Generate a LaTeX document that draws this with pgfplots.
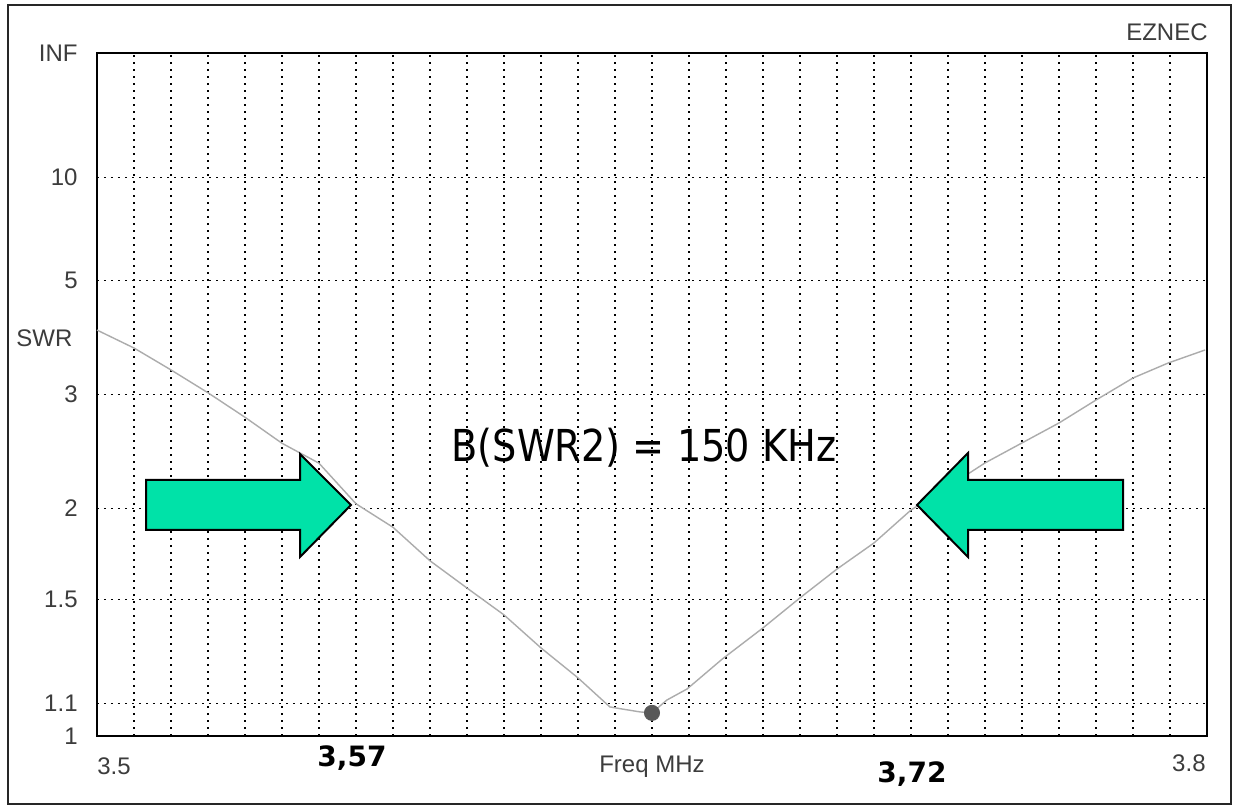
\documentclass[border=0pt]{standalone}
\usepackage{pgfplots}
\pgfplotsset{compat=1.18}
\usepackage{fontspec}
\setmainfont{Liberation Sans}
\newfontfamily\dv{DejaVu Sans}
\definecolor{arrowgreen}{RGB}{0,226,168}
\definecolor{txtgray}{RGB}{60,60,60}
\begin{document}
\begin{tikzpicture}[x=0.5pt,y=0.5pt]
\path[use as bounding box] (0,0) rectangle (1233,806);
\fill[white] (0,0) rectangle (1233,806);
\draw[line width=1pt, black!85] (8,2) rectangle (1231,801);
\begin{axis}[
  at={(48.5pt,35pt)}, anchor=south west,
  scale only axis, width=555pt, height=341.5pt,
  xmin=3.5, xmax=3.8, ymin=0, ymax=1,
  y filter/.expression={(y-1)/(y+1)},
  xtick={3.5,3.8}, xticklabels={},
  minor x tick num=29,
  ytick={0,0.047619,0.2,0.333333,0.5,0.666667,0.818182,1},
  yticklabels={1,1.1,1.5,2,3,5,10,INF},
  /pgf/number format/assume math mode=true,
  yticklabel style={font=\fontsize{12pt}{14pt}\selectfont, text=txtgray, inner sep=0pt, xshift=-9.5pt},
  major tick length=0pt, minor tick length=0pt,
  ymajorgrids, xminorgrids,
  major grid style={black, line width=0.65pt, dash pattern=on 1.2pt off 2.3pt},
  minor grid style={black, line width=0.65pt, dash pattern=on 1.2pt off 2.3pt},
  axis line style={black, line width=0.8pt},
  clip=false,
]
\addplot[gray!65, line width=0.7pt] coordinates {
(3.500,3.93) (3.510,3.63) (3.520,3.31) (3.530,3.02) (3.540,2.75)
(3.550,2.50) (3.560,2.33) (3.570,2.03) (3.580,1.88) (3.590,1.69)
(3.600,1.553) (3.610,1.431) (3.620,1.296) (3.630,1.186) (3.6386,1.089)
(3.6405,1.085) (3.6468,1.073) (3.650,1.070) (3.654,1.111) (3.6595,1.148)
(3.669,1.254) (3.680,1.376) (3.690,1.507) (3.700,1.647) (3.710,1.788)
(3.720,1.989) (3.730,2.148) (3.740,2.332) (3.750,2.503) (3.760,2.692)
(3.770,2.936) (3.780,3.203) (3.7895,3.406) (3.7995,3.60)
};
\addplot[only marks, mark=*, mark size=3.8pt, color=black!65] coordinates {(3.650,1.070)};
\end{axis}
% axis texts
\node[anchor=base west, inner sep=0pt, text=txtgray, font=\fontsize{12pt}{14pt}\selectfont] at (97,31) {3.5};
\node[anchor=base east, inner sep=0pt, text=txtgray, font=\fontsize{12pt}{14pt}\selectfont] at (1206,34) {3.8};
\node[anchor=base, inner sep=0pt, text=txtgray, font=\fontsize{12pt}{14pt}\selectfont] at (652,33) {Freq MHz};
\node[anchor=west, inner sep=0pt, text=txtgray, font=\fontsize{12pt}{14pt}\selectfont] at (16,468) {SWR};
\node[anchor=east, inner sep=0pt, text=txtgray, font=\fontsize{12pt}{14pt}\selectfont] at (1208,774) {EZNEC};
% arrows
\draw[line width=1pt, fill=arrowgreen, line join=miter]
  (146,326) -- (300,326) -- (300,352) -- (351,301) -- (300,249) -- (300,276) -- (146,276) -- cycle;
\draw[line width=1pt, fill=arrowgreen, line join=miter]
  (1123,326) -- (968,326) -- (968,353) -- (917,301) -- (968,249) -- (968,276) -- (1123,276) -- cycle;
% annotations
\node[anchor=base, inner sep=0pt, xscale=0.87, font=\dv\fontsize{22pt}{26pt}\selectfont] at (644,344) {B(SWR2) = 150 KHz};
\node[anchor=base, inner sep=0pt, font=\dv\bfseries\fontsize{14pt}{17pt}\selectfont] at (352,39) {3,57};
\node[anchor=base, inner sep=0pt, font=\dv\bfseries\fontsize{14pt}{17pt}\selectfont] at (912,23) {3,72};
\end{tikzpicture}
\end{document}
